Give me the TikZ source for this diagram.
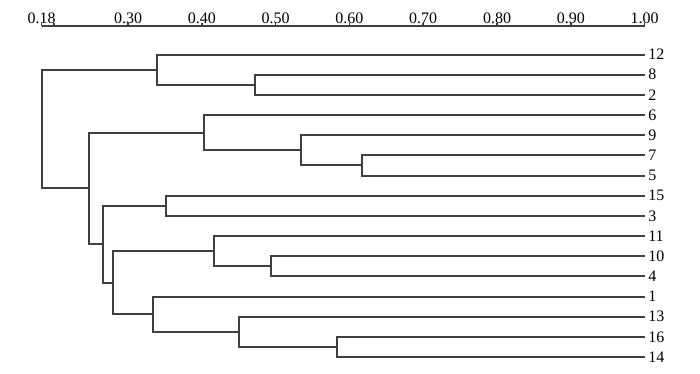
\documentclass[tikz,border=0pt]{standalone}
\usepackage{fontspec}
\setmainfont{Liberation Serif}
\usepackage{tikz}
\definecolor{ramas}{RGB}{64,64,64}
\tikzset{
  rama/.style={draw=ramas, line width=2pt},
  eje/.style={draw=ramas, line width=1.6pt},
  hoja/.style={anchor=west, inner sep=3.5pt, font=\fontsize{16}{16}\selectfont},
  escala/.style={anchor=base, inner sep=0pt, font=\fontsize{16}{16}\selectfont}
}

\begin{document}
\begin{tikzpicture}[x=738pt, y=-20.17pt]
  \useasboundingbox (93.4pt,54.5pt) rectangle (793.4pt,-318.5pt);
  \draw[eje] (0.183,-1.41) -- (1,-1.41);
  \draw[eje] (0.183,-1.41) -- ++(0,3pt) (0.20,-1.41) -- ++(0,3pt)
    (0.30,-1.41) -- ++(0,3pt) (0.40,-1.41) -- ++(0,3pt)
    (0.50,-1.41) -- ++(0,3pt) (0.60,-1.41) -- ++(0,3pt)
    (0.70,-1.41) -- ++(0,3pt) (0.80,-1.41) -- ++(0,3pt)
    (0.90,-1.41) -- ++(0,3pt) (1.00,-1.41) -- ++(0,3pt);
  \node[escala] (e18) at ([yshift=3pt]0.183,-1.41) {0.18};
  \node[escala] (e30) at ([yshift=3pt]0.30,-1.41) {0.30};
  \node[escala] (e40) at ([yshift=3pt]0.40,-1.41) {0.40};
  \node[escala] (e50) at ([yshift=3pt]0.50,-1.41) {0.50};
  \node[escala] (e60) at ([yshift=3pt]0.60,-1.41) {0.60};
  \node[escala] (e70) at ([yshift=3pt]0.70,-1.41) {0.70};
  \node[escala] (e80) at ([yshift=3pt]0.80,-1.41) {0.80};
  \node[escala] (e90) at ([yshift=3pt]0.90,-1.41) {0.90};
  \node[escala] (e100) at ([yshift=3pt]1.00,-1.41) {1.00};

  \node[hoja] (h12) at (1,0) {12};
  \node[hoja] (h8) at (1,1) {8};
  \node[hoja] (h2) at (1,2) {2};
  \node[hoja] (h6) at (1,3) {6};
  \node[hoja] (h9) at (1,4) {9};
  \node[hoja] (h7) at (1,5) {7};
  \node[hoja] (h5) at (1,6) {5};
  \node[hoja] (h15) at (1,7) {15};
  \node[hoja] (h3) at (1,8) {3};
  \node[hoja] (h11) at (1,9) {11};
  \node[hoja] (h10) at (1,10) {10};
  \node[hoja] (h4) at (1,11) {4};
  \node[hoja] (h1) at (1,12) {1};
  \node[hoja] (h13) at (1,13) {13};
  \node[hoja] (h16) at (1,14) {16};
  \node[hoja] (h14) at (1,15) {14};

  \coordinate (u82) at (0.472,1.5);
  \coordinate (u12) at (0.339,0.75);
  \coordinate (u75) at (0.617,5.5);
  \coordinate (u9) at (0.534,4.75);
  \coordinate (u6) at (0.403,3.875);
  \coordinate (u153) at (0.351,7.5);
  \coordinate (u104) at (0.494,10.5);
  \coordinate (u11) at (0.417,9.75);
  \coordinate (u1614) at (0.583,14.5);
  \coordinate (u13) at (0.450,13.75);
  \coordinate (u1) at (0.334,12.875);
  \coordinate (u111) at (0.280,11.3125);
  \coordinate (u15) at (0.266,9.406);
  \coordinate (u615) at (0.247,6.64);
  \coordinate (raiz) at (0.183,3.695);

  \draw[rama] (h8.west) -| (u82) |- (h2.west);
  \draw[rama] (h12.west) -| (u12) |- (u82);
  \draw[rama] (h7.west) -| (u75) |- (h5.west);
  \draw[rama] (h9.west) -| (u9) |- (u75);
  \draw[rama] (h6.west) -| (u6) |- (u9);
  \draw[rama] (h15.west) -| (u153) |- (h3.west);
  \draw[rama] (h10.west) -| (u104) |- (h4.west);
  \draw[rama] (h11.west) -| (u11) |- (u104);
  \draw[rama] (h16.west) -| (u1614) |- (h14.west);
  \draw[rama] (h13.west) -| (u13) |- (u1614);
  \draw[rama] (h1.west) -| (u1) |- (u13);
  \draw[rama] (u11) -| (u111) |- (u1);
  \draw[rama] (u153) -| (u15) |- (u111);
  \draw[rama] (u6) -| (u615) |- (u15);
  \draw[rama] (u12) -| (raiz) |- (u615);
\end{tikzpicture}
\end{document}
